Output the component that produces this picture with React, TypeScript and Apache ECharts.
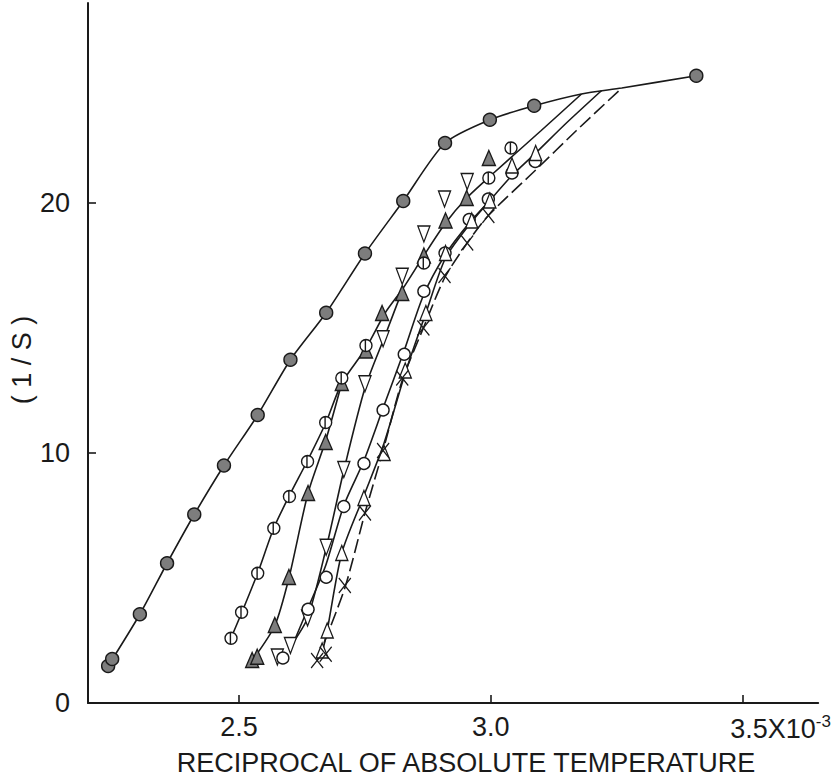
import React, { useEffect, useRef } from "react";
import * as echarts from "echarts";

// tick values
const xTickValues = [2.5, 3.0, 3.5];
const yTickValues = [0, 10, 20];

// markers: [1/T (x10^-3), 1/S]
const filledCircles: [number, number][] = [
  [2.24, 1.48], [2.248, 1.76], [2.303, 3.55], [2.357, 5.59], [2.411, 7.54], [2.47, 9.5],
  [2.537, 11.52], [2.602, 13.73], [2.673, 15.61], [2.75, 17.98], [2.826, 20.08],
  [2.909, 22.4], [2.998, 23.33], [3.086, 23.89], [3.408, 25.09],
];
const halfCircles: [number, number][] = [
  [2.484, 2.59], [2.505, 3.63], [2.537, 5.19], [2.569, 6.99], [2.6, 8.26], [2.636, 9.66],
  [2.672, 11.22], [2.704, 13.0], [2.752, 14.3], [2.867, 17.6], [2.996, 21.0], [3.04, 22.2],
];
const filledTriangles: [number, number][] = [
  [2.526, 1.72], [2.536, 1.85], [2.571, 3.12], [2.599, 5.04], [2.637, 8.4], [2.672, 10.44],
  [2.704, 12.8], [2.752, 14.1], [2.784, 15.6], [2.824, 16.4], [2.867, 17.9], [2.91, 19.3],
  [2.952, 20.2], [2.996, 21.8],
];
const invTriangles: [number, number][] = [
  [2.576, 1.84], [2.602, 2.3], [2.636, 3.4], [2.673, 6.23], [2.708, 9.34], [2.75, 12.77],
  [2.786, 14.57], [2.824, 17.07], [2.867, 18.76], [2.908, 20.16], [2.953, 20.86],
];
const openCircles: [number, number][] = [
  [2.587, 1.8], [2.637, 3.75], [2.673, 5.03], [2.708, 7.86], [2.748, 9.58], [2.786, 11.72],
  [2.828, 13.95], [2.867, 16.47], [2.909, 18.0], [2.957, 19.34], [2.995, 20.16],
  [3.042, 21.2], [3.088, 21.66],
];
const openTriangles: [number, number][] = [
  [2.665, 2.1], [2.675, 2.9], [2.704, 6.0], [2.748, 8.2], [2.788, 10.0], [2.83, 13.3],
  [2.871, 15.6], [2.91, 18.0], [2.962, 19.3], [2.998, 20.1], [3.042, 21.5], [3.089, 22.0],
];
const crosses: [number, number][] = [
  [2.655, 1.7], [2.672, 1.95], [2.71, 4.7], [2.75, 7.6], [2.786, 10.1], [2.824, 13.0],
  [2.866, 15.0], [2.908, 17.1], [2.953, 18.4], [2.995, 19.5],
];

// hand-drawn curves
const curveA: [number, number][] = [
  [2.24, 1.48], [2.303, 3.55], [2.357, 5.59], [2.411, 7.54], [2.47, 9.5], [2.537, 11.52],
  [2.602, 13.73], [2.673, 15.61], [2.75, 17.98], [2.826, 20.08], [2.909, 22.4],
  [2.998, 23.33], [3.086, 23.89], [3.18, 24.36], [3.26, 24.6], [3.408, 25.09],
];
const curveB: [number, number][] = [
  [2.484, 2.6], [2.505, 3.6], [2.537, 5.2], [2.569, 7.0], [2.6, 8.3], [2.636, 9.7],
  [2.672, 11.2], [2.704, 12.8], [2.752, 14.2], [2.79, 15.6], [2.826, 16.6], [2.867, 17.9],
  [2.91, 19.2], [2.952, 20.2], [3.0, 21.1], [3.1, 22.9], [3.18, 24.36],
];
const curveC: [number, number][] = [
  [2.528, 1.75], [2.571, 3.1], [2.599, 5.0], [2.637, 8.4], [2.672, 10.5], [2.704, 12.8],
];
const curveD: [number, number][] = [
  [2.6, 2.2], [2.636, 3.4], [2.673, 6.2], [2.708, 9.3], [2.75, 12.6], [2.79, 14.7], [2.826, 16.6],
];
const curveE: [number, number][] = [
  [2.61, 2.5], [2.637, 3.8], [2.672, 5.5], [2.708, 7.9], [2.748, 9.7], [2.786, 11.8],
  [2.828, 14.1], [2.866, 16.3], [2.91, 17.95], [2.957, 19.2], [2.998, 20.1],
];
const curveF: [number, number][] = [
  [2.665, 2.0], [2.675, 2.9], [2.704, 6.0], [2.748, 8.3], [2.788, 10.4], [2.83, 13.2],
  [2.871, 15.6], [2.91, 17.8], [2.96, 19.2], [2.998, 20.1], [3.042, 21.1], [3.089, 22.0],
  [3.15, 23.2], [3.22, 24.5],
];
const curveG: [number, number][] = [
  [2.655, 1.7], [2.71, 4.6], [2.75, 7.6], [2.786, 10.1], [2.824, 12.9], [2.866, 15.0],
  [2.908, 17.0], [2.953, 18.4], [2.995, 19.5], [3.088, 21.3], [3.17, 22.9], [3.26, 24.6],
];

const FONT = "Liberation Sans";
const INK = "#1a1a1a";
const GREY = "#7d7d7d";

const halfCirclePath = "path://M10,0 A10,10 0 1,1 10,20 A10,10 0 1,1 10,0 Z M9,0 L9,20";
const invTrianglePath = "path://M0,0 L12,0 L6,16 Z";
const crossPath = "path://M0,0 L12,16 M12,0 L0,16";

function curve(data: [number, number][], dashed = false) {
  return {
    type: "line",
    data,
    showSymbol: false,
    symbol: "none",
    smooth: 0.25,
    lineStyle: { color: INK, width: 1.6, type: dashed ? [14, 5] : "solid" },
    z: 2,
    silent: true,
  };
}

function markers(data: [number, number][], symbol: string, size: number | number[], fill: string) {
  return {
    type: "scatter",
    data,
    symbol,
    symbolSize: size,
    itemStyle: { color: fill, borderColor: INK, borderWidth: 1.4, opacity: 1 },
    z: 5,
    silent: true,
  };
}

export default function App() {
  const ref = useRef<HTMLDivElement>(null);
  useEffect(() => {
    if (!ref.current) return;
    const chart = echarts.init(ref.current, undefined, { renderer: "svg" });
    chart.setOption({
      animation: false,
      backgroundColor: "#ffffff",
      grid: { left: 88, right: 14, top: 3, bottom: 79, containLabel: false },
      xAxis: {
        type: "value",
        min: 2.2,
        max: 3.65,
        axisLine: { show: true, onZero: false, lineStyle: { color: INK, width: 2 } },
        axisTick: { show: true, inside: true, length: 8, customValues: xTickValues, lineStyle: { color: INK, width: 1.6 } },
        splitLine: { show: false },
        axisLabel: {
          customValues: xTickValues,
          margin: 10,
          color: INK,
          fontFamily: FONT,
          fontSize: 27,
          formatter: (v: number) => (Math.abs(v - 3.5) < 1e-6 ? "{pad| }3.5X10{sup|-3}" : v.toFixed(1)),
          rich: {
            pad: { width: 76, fontSize: 27, fontFamily: FONT },
            sup: { fontSize: 17, fontFamily: FONT, color: INK, verticalAlign: "top", padding: [0, 0, 14, 0] },
          },
        },
      },
      yAxis: {
        type: "value",
        min: 0,
        max: 28,
        axisLine: { show: true, onZero: false, lineStyle: { color: INK, width: 2 } },
        axisTick: { show: true, inside: true, length: 8, customValues: yTickValues, lineStyle: { color: INK, width: 1.6 } },
        splitLine: { show: false },
        axisLabel: {
          customValues: yTickValues,
          margin: 18,
          color: INK,
          fontFamily: FONT,
          fontSize: 27,
        },
      },
      graphic: [
        {
          type: "text",
          x: 22,
          y: 360,
          rotation: Math.PI / 2,
          style: { text: "( 1 / S )", fontFamily: FONT, fontSize: 27, fill: INK, align: "center", verticalAlign: "middle" },
        },
        {
          type: "text",
          x: 466,
          y: 763,
          style: {
            text: "RECIPROCAL OF ABSOLUTE TEMPERATURE",
            fontFamily: FONT,
            fontSize: 27,
            fill: INK,
            align: "center",
            verticalAlign: "middle",
          },
        },
      ],
      series: [
        curve(curveA),
        curve(curveB),
        curve(curveC),
        curve(curveD),
        curve(curveE),
        curve(curveF),
        curve(curveG, true),
        markers(filledCircles, "circle", 13, GREY),
        markers(filledTriangles, "triangle", [13, 15], GREY),
        markers(halfCircles, halfCirclePath, 12, "#ffffff"),
        markers(invTriangles, invTrianglePath, [12, 16], "#ffffff"),
        markers(openCircles, "circle", 12, "#ffffff"),
        markers(openTriangles, "triangle", [12, 15], "#ffffff"),
        markers(crosses, crossPath, [12, 15], "none"),
      ],
    });
    return () => chart.dispose();
  }, []);
  return <div ref={ref} style={{ position: "fixed", left: 0, top: 0, width: 834, height: 782 }} />;
}
